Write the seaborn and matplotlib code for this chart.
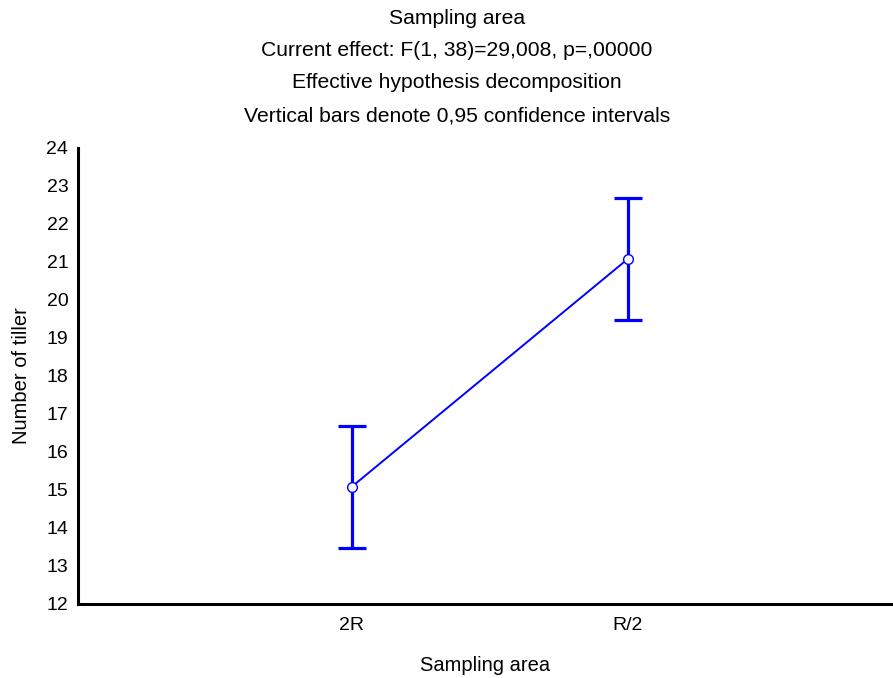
import matplotlib
matplotlib.use("Agg")
import matplotlib.pyplot as plt
import seaborn as sns
import pandas as pd

categories = ["2R", "R/2"]
means = [15.08, 21.08]
ci_low = [13.48, 19.48]
ci_high = [16.68, 22.68]
title_lines = [
    "Sampling area",
    "Current effect: F(1, 38)=29,008, p=,00000",
    "Effective hypothesis decomposition",
    "Vertical bars denote 0,95 confidence intervals",
]
y_ticks = list(range(12, 25))

sns.set_theme(style="white")
plt.rcParams['font.family'] = ['Liberation Sans', 'DejaVu Sans']

TFS = 15.2
LFS = 14.5
KFS = 14
W, H = 893, 678
fig = plt.figure(figsize=(W / 100, H / 100), dpi=100)
ax = fig.add_axes([78 / W, 1 - 604 / H, (W - 78) / W, (604 - 148) / H])

df = pd.DataFrame({"cat": categories, "mean": means})
x = list(range(len(categories)))
lower = [m - l for m, l in zip(means, ci_low)]
upper = [h - m for m, h in zip(means, ci_high)]
ax.errorbar(x, means, yerr=[lower, upper], fmt="none", ecolor="#0000ff",
            elinewidth=2.3, capsize=10, capthick=2.3, zorder=2)
sns.lineplot(x=x, y=df["mean"], ax=ax, color="#0000ff", linewidth=1.4,
             marker="o", markersize=7, markerfacecolor="white",
             markeredgecolor="#0000ff", markeredgewidth=1.0, zorder=3)

ax.set_xlim(-0.99, 1.96)
ax.set_ylim(12, 24)
ax.set_xticks(x)
ax.set_xticklabels(categories)
ax.set_yticks(y_ticks)
ax.tick_params(axis="both", direction="in", length=3, width=1.2, color="black",
               labelsize=KFS, labelcolor="black", pad=6)
ax.tick_params(axis="x", pad=9)
ax.tick_params(axis="y", pad=7)
for s in ["top", "right"]:
    ax.spines[s].set_visible(False)
for s in ["left", "bottom"]:
    ax.spines[s].set_color("black")
    ax.spines[s].set_linewidth(2.2)
ax.set_xlabel("Sampling area", fontsize=LFS, color="black", labelpad=16)
ax.set_ylabel("Number of tiller", fontsize=LFS, color="black", labelpad=11)
ax.grid(False)

ys = [19, 50, 82, 116]
for t, yy in zip(title_lines, ys):
    fig.text(457 / W, 1 - yy / H, t, ha="center", va="center", fontsize=TFS, color="black")

fig.savefig("out.png", dpi=100)
